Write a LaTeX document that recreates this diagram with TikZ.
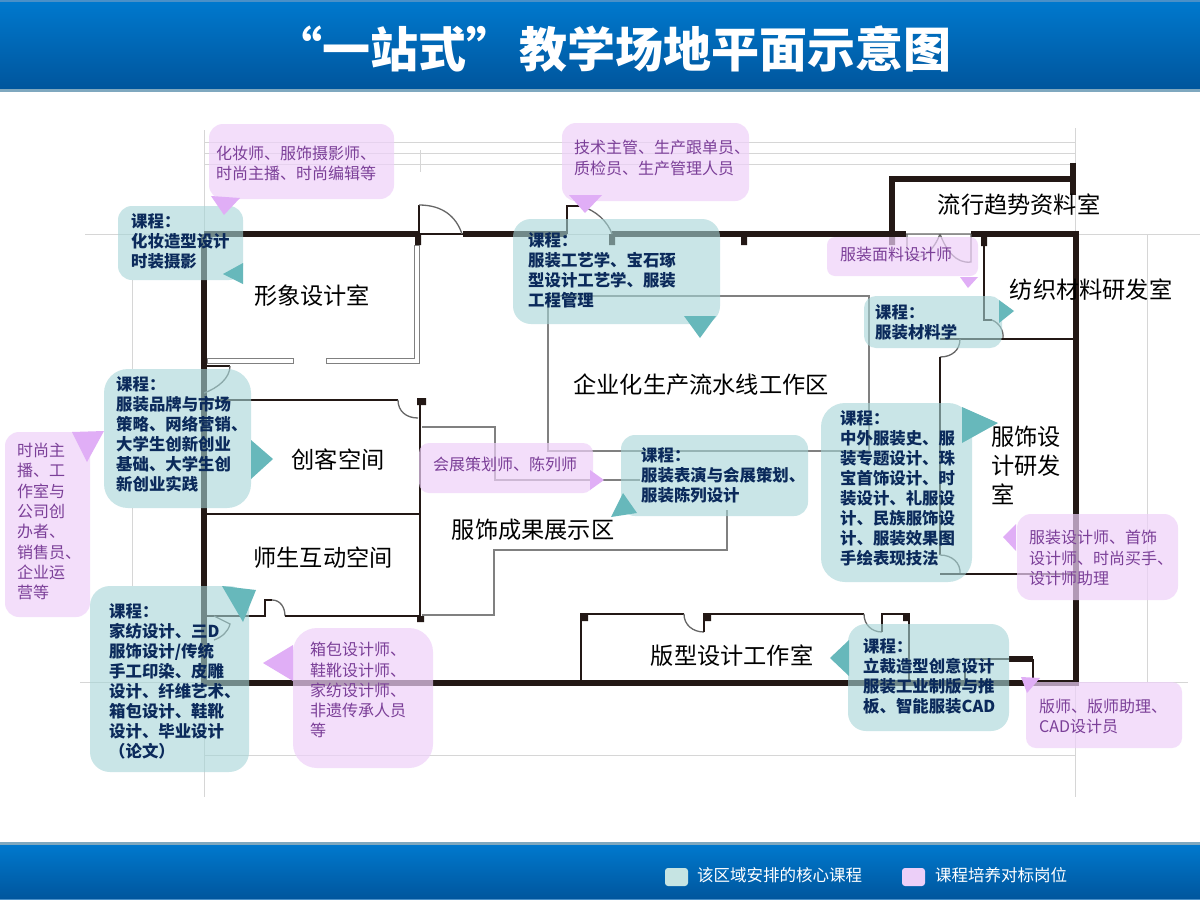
\documentclass[tikz,border=0pt]{standalone}
\usepackage{fontspec}
\setmainfont{Noto Sans CJK SC}
\definecolor{wallc}{HTML}{231815}
\definecolor{faint}{HTML}{D6D6D6}
\definecolor{greyln}{HTML}{808080}
\definecolor{tealb}{RGB}{165,213,215}
\definecolor{pinkb}{RGB}{238,209,249}
\definecolor{tealt}{HTML}{67B8BB}
\definecolor{pinkt}{HTML}{E0AEF6}
\definecolor{navyt}{HTML}{0B2A5B}
\definecolor{purpt}{HTML}{7B3F98}
\definecolor{bartop}{HTML}{0079CE}
\definecolor{barbot}{HTML}{00559C}
\definecolor{barline}{HTML}{7FA8BF}
\definecolor{barhi}{HTML}{4A90C8}
\definecolor{legteal}{HTML}{C6E4E3}
\definecolor{legpink}{HTML}{ECCFF8}
\tikzset{
 fline/.style={draw=faint,line width=1pt},
 wall/.style={draw=wallc,line width=5.5pt},
 thinw/.style={draw=wallc,line width=2.4pt},
 hair/.style={draw=wallc,line width=1.4pt},
 gline/.style={draw=greyln,line width=1.6pt},
 doorarc/.style={draw=greyln!80!black,line width=1.3pt},
 stub/.style={fill=wallc},
 room/.style={font=\fontsize{23.2}{29}\selectfont,text=black,inner sep=0pt,align=left},
 tealbub/.style={fill=tealb,fill opacity=.6},
 pinkbub/.style={fill=pinkb,fill opacity=.7},
 tealtail/.style={fill=tealt},
 pinktail/.style={fill=pinkt},
 course/.style={font=\fontsize{16.4}{20}\selectfont\bfseries,text=navyt,anchor=north west,inner sep=0pt,align=left},
 job/.style={font=\fontsize{16}{20.3}\selectfont,text=purpt,anchor=north west,inner sep=0pt,align=left},
 legend/.style={font=\fontsize{16.5}{20}\selectfont,text=white,anchor=west,inner sep=0pt}
}
\begin{document}
\begin{tikzpicture}[x=1pt,y=-1pt]
\useasboundingbox (0,0) rectangle (1200,900);
\fill[white] (0,0) rectangle (1200,900);
% bars
\shade[top color=bartop,bottom color=barbot] (0,0) rectangle (1200,90);
\fill[barhi] (0,0) rectangle (1200,1.5);
\fill[barline] (0,89) rectangle (1200,92);
\shade[top color=bartop,bottom color=barbot] (0,844) rectangle (1200,900);
\fill[barline] (0,842) rectangle (1200,845);
\fill[barhi] (0,898.5) rectangle (1200,900);
\node[font=\fontsize{48}{50}\selectfont\bfseries,text=white,inner sep=0pt,anchor=west] (title) at (274,49) {“一站式”\hspace{5pt}教学场地平面示意图};
% faint construction lines
\draw[fline] (205,142) -- (1075,142) (205,153) -- (1075,153) (205,164) -- (1075,164);
\draw[fline] (85,234) -- (1200,234) (80,682) -- (1188,682) (205,755) -- (1075,755);
\draw[fline] (204,130) -- (204,797) (1075,128) -- (1075,797) (1147,234) -- (1147,683);
\draw[fline] (132,280) -- (132,369) (132,508) -- (132,586) (420,150) -- (420,172);
% thick walls
\draw[wall] (204,234) -- (418,234) (463,234) -- (567,234) (612,234) -- (906,234) (971,234) -- (1076,234) -- (1076,683) -- (204,683) -- (204,234);
\draw[wall] (892,234) -- (892,179) -- (1073,179) (1073,163) -- (1073,195);
\draw[wall] (1009,659) -- (1033,659);
\fill[stub] (415,234) rectangle (421,245) (609,234) rectangle (615,245) (741,234) rectangle (747,245) (889,234) rectangle (895,245) (981,234) rectangle (987,246);
% door at top left
\draw[hair] (419,234) -- (419,205) (419,234) -- (463,234);
\draw[doorarc] (419,205) .. controls (442,205) and (456,216) .. (462,234);
\draw[hair] (567,234) -- (567,206) -- (580,206);
\draw[doorarc] (580,206) .. controls (596,210) and (608,222) .. (612,234);
% double door
\draw[doorarc] (906,234) -- (971,234) (907,234) -- (907,256) .. controls (922,262) and (934,250) .. (940,234);
\draw[doorarc] (971,234) -- (971,262) .. controls (956,264) and (946,250) .. (940,234);
% right rooms
\draw[hair] (984,246) -- (984,320) -- (992,320);
\draw[doorarc] (992,320) .. controls (999,323) and (1004,330) .. (1003,339);
\draw[thinw] (1003,339) -- (1076,339);
\draw[hair] (940,339) -- (1003,339);
\draw[doorarc] (960,339) .. controls (960,350) and (952,357) .. (940,357);
\draw[thinw] (940,357) -- (940,555);
\draw[doorarc] (940,555) .. controls (952,555) and (961,563) .. (960,574);
\draw[thinw] (940,574) -- (1076,574);
% image room
\draw[draw=greyln,line width=1pt,fill=white] (207,358) -- (293,358) -- (293,363) -- (207,363) -- cycle;
\draw[draw=greyln,line width=1pt,fill=white] (326,358) -- (414.5,358) -- (414.5,245) -- (419,245) -- (419,363) -- (326,363) -- cycle;
\draw[hair] (204,366) -- (230,366);
\draw[doorarc] (230,366) .. controls (230,378) and (218,388) .. (204,393);
\draw[thinw] (204,400) -- (398,400);
\draw[doorarc] (398,400) .. controls (398,411) and (406,418) .. (418,418);
\draw[thinw] (420,400) -- (420,620);
\fill[stub] (417,398) rectangle (426,405) (417,616) rectangle (424,622);
\draw[thinw] (204,514) -- (420,514);
\draw[thinw] (204,616) -- (265,616) -- (265,600) -- (272,600);
\draw[doorarc] (272,600) .. controls (280,600) and (285,607) .. (285,616);
\draw[thinw] (285,616) -- (420,616);
\draw[doorarc] (214,616) -- (230,624) .. controls (228,632) and (222,637) .. (214,640);
% grey partitions
\draw[gline] (422,427) -- (495,427) -- (495,480) -- (640,480);
\draw[gline] (548,296) -- (869,296) -- (869,451);
\draw[gline] (548,296) -- (548,451) -- (870,451);
\draw[gline] (422,615) -- (494,615) -- (494,550) -- (727,550) -- (727,510);
% pattern room
\draw[thinw] (581,683) -- (581,614) -- (684,614);
\draw[doorarc] (684,614) .. controls (684,625) and (693,632) .. (704,632);
\draw[thinw] (704,632) -- (704,614) -- (864,614);
\draw[doorarc] (864,614) .. controls (864,625) and (872,632) .. (882,632);
\draw[thinw] (882,632) -- (882,614) -- (909,614) -- (909,683);
\draw[thinw] (965,683) -- (965,659) -- (1009,659) (1033,659) -- (1033,683);
\fill[stub] (581,614) rectangle (588,621) (704,614) rectangle (711,621) (903,614) rectangle (909,621);
% room labels
\node[room] (r1) at (312,296) {形象设计室};
\node[room] (r2) at (338,460) {创客空间};
\node[room] (r3) at (323,558) {师生互动空间};
\node[room] (r4) at (701,385) {企业化生产流水线工作区};
\node[room] (r5) at (533,530) {服饰成果展示区};
\node[room] (r6) at (732,656) {版型设计工作室};
\node[room] (r7) at (1019,205) {流行趋势资料室};
\node[room] (r8) at (1091,290) {纺织材料研发室};
\node[room,anchor=north west] (r9) at (991,426) {服饰设\\计研发\\室};
% bubbles
\fill[pinkbub,rounded corners=14pt] (209,124) rectangle (394,199);
\fill[tealbub,rounded corners=14pt] (118,206) rectangle (243,280);
\fill[tealbub,rounded corners=24pt] (104,369) rectangle (251,508);
\fill[pinkbub,rounded corners=14pt] (5,432) rectangle (90,617);
\fill[tealbub,rounded corners=20pt] (90,586) rectangle (249,772);
\fill[pinkbub,rounded corners=24pt] (293,628) rectangle (433,768);
\fill[pinkbub,rounded corners=10pt] (419,443) rectangle (593,493);
\fill[tealbub,rounded corners=14pt] (621,435) rectangle (808,516);
\fill[tealbub,rounded corners=18pt] (513,219) rectangle (720,324);
\fill[pinkbub,rounded corners=14pt] (562,123) rectangle (749,201);
\fill[pinkbub,rounded corners=8pt] (827,237) rectangle (978,276);
\fill[tealbub,rounded corners=12pt] (864,296) rectangle (1002,348);
\fill[tealbub,rounded corners=24pt] (821,403) rectangle (972,582);
\fill[pinkbub,rounded corners=14pt] (1017,514) rectangle (1178,600);
\fill[tealbub,rounded corners=18pt] (848,624) rectangle (1009,731);
\fill[pinkbub,rounded corners=10pt] (1026,682) rectangle (1182,748);
% tails
\fill[pinktail] (211,196) -- (240,198) -- (224,215) -- cycle;
\fill[tealtail] (243,263) -- (223,274) -- (243,284) -- cycle;
\fill[tealtail] (251,440) -- (273,459) -- (251,479) -- cycle;
\fill[pinktail] (72,432) -- (104,431) -- (87,462) -- cycle;
\fill[tealtail] (222,586) -- (256,590) -- (243,622) -- cycle;
\fill[pinktail] (293,645) -- (263,663) -- (293,681) -- cycle;
\fill[pinktail] (590,470) -- (604,480) -- (590,490) -- cycle;
\fill[tealtail] (611,517) -- (623,493) -- (637,513) -- cycle;
\fill[tealtail] (684,316) -- (716,316) -- (700,338) -- cycle;
\fill[pinktail] (569,195) -- (602,195) -- (585,213) -- cycle;
\fill[pinktail] (960,277) -- (978,277) -- (968,288) -- cycle;
\fill[tealtail] (999,300) -- (1014,311) -- (999,323) -- cycle;
\fill[tealtail] (962,407) -- (998,423) -- (962,443) -- cycle;
\fill[pinktail] (1016,524) -- (1003,537) -- (1016,551) -- cycle;
\fill[tealtail] (849,640) -- (830,658) -- (849,676) -- cycle;
\fill[pinktail] (1021,677) -- (1040,678) -- (1027,693) -- cycle;
% bubble text
\node[job] (j1) at (216,146) {化妆师、服饰摄影师、\\时尚主播、时尚编辑等};
\node[course] (c1) at (131,213) {课程：\\化妆造型设计\\时装摄影};
\node[course] (c2) at (116,376) {课程：\\服装品牌与市场\\策略、网络营销、\\大学生创新创业\\基础、大学生创\\新创业实践};
\node[job] (j2) at (17,443) {时尚主\\播、工\\作室与\\公司创\\办者、\\销售员、\\企业运\\营等};
\node[course] (c3) at (109,603) {课程：\\家纺设计、三D\\服饰设计/传统\\手工印染、皮雕\\设计、纤维艺术、\\箱包设计、鞋靴\\设计、毕业设计\\（论文）};
\node[job] (j3) at (310,642) {箱包设计师、\\鞋靴设计师、\\家纺设计师、\\非遗传承人员\\等};
\node[job] (j4) at (433,457) {会展策划师、陈列师};
\node[course] (c4) at (641,447) {课程：\\服装表演与会展策划、\\服装陈列设计};
\node[course] (c5) at (528,232) {课程：\\服装工艺学、宝石琢\\型设计工艺学、服装\\工程管理};
\node[job] (j5) at (574,140) {技术主管、生产跟单员、\\质检员、生产管理人员};
\node[job] (j6) at (840,247) {服装面料设计师};
\node[course] (c6) at (875,304) {课程：\\服装材料学};
\node[course] (c7) at (840,410) {课程：\\中外服装史、服\\装专题设计、珠\\宝首饰设计、时\\装设计、礼服设\\计、民族服饰设\\计、服装效果图\\手绘表现技法};
\node[job] (j7) at (1029,530) {服装设计师、首饰\\设计师、时尚买手、\\设计师助理};
\node[course] (c8) at (863,638) {课程：\\立裁造型创意设计\\服装工业制版与推\\板、智能服装CAD};
\node[job] (j8) at (1039,699) {版师、版师助理、\\CAD设计员};
% legend
\fill[legteal,rounded corners=3pt] (665,868) rectangle (688,886);
\node[legend] (l1) at (697,875) {该区域安排的核心课程};
\fill[legpink,rounded corners=3pt] (902,868) rectangle (925,886);
\node[legend] (l2) at (935,875) {课程培养对标岗位};
\end{tikzpicture}
\end{document}
